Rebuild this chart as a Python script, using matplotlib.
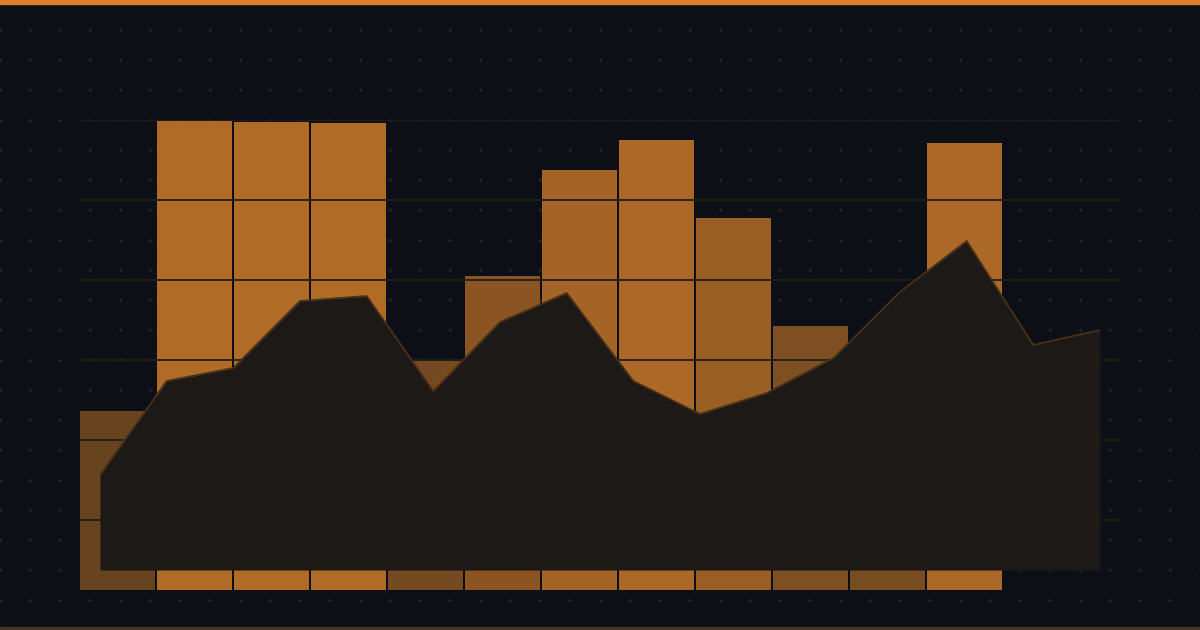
import numpy as np
import matplotlib.pyplot as plt
from matplotlib.colors import to_rgb

# -------------------- DATA --------------------

bar_values = [179, 469, 468, 467, 229, 314, 420, 450, 372, 264, 243, 447]
area_values = [95, 189, 202, 269, 274, 179, 248, 277, 189, 156, 177, 212, 278, 329, 225, 240]

# -------------------- STYLE --------------------

BG = "#0c0f16"
ORANGE = "#d9822b"
GRID = "#211d1b"
DOT = "#2c2520"
AREA_FILL = "#1c1916"
AREA_LINE = "#4b3018"

W, H = 1200, 630


def blend(alpha):
    bg = np.array(to_rgb(BG))
    fg = np.array(to_rgb(ORANGE))
    return tuple(bg * (1 - alpha) + fg * alpha)


fig = plt.figure(figsize=(12, 6.3), dpi=100)
fig.patch.set_facecolor(BG)

# background layer in pixel coords: dots + borders
bg_ax = fig.add_axes([0, 0, 1, 1])
bg_ax.set_xlim(0, W)
bg_ax.set_ylim(H, 0)
bg_ax.axis("off")
bg_ax.set_facecolor(BG)

gx, gy = np.meshgrid(np.arange(0, W + 1, 30), np.arange(30, 601, 30))
bg_ax.scatter(gx.ravel(), gy.ravel(), marker="+", s=6, linewidths=0.8,
              color=DOT, zorder=1)
bg_ax.axhspan(0, 4, color="#dc8030", zorder=5)
bg_ax.axhspan(627, 630, color="#4a3320", zorder=5)

# -------------------- BARS --------------------

step = 77
left, right, top, bottom = 80, 1120, 120, 590
ax = fig.add_axes([left / W, 1 - bottom / H, (right - left) / W, (bottom - top) / H])
ax.set_facecolor("none")

vmin, vmax = min(bar_values), max(bar_values)
colors = [blend(0.45 + 0.35 * (v - vmin) / (vmax - vmin)) for v in bar_values]
x = np.arange(len(bar_values))
width = 75 / step
ax.bar(x, bar_values, width=width, color=colors, zorder=2)

x0 = -width / 2
ax.set_xlim(x0, x0 + (right - left) / step)
ax.set_ylim(0, bottom - top)
for gy_line in [470, 390, 310, 230, 150, 70]:
    ax.axhline(gy_line, color=GRID, lw=1.3, zorder=3)
ax.axis("off")

# -------------------- AREA --------------------

a_left, a_right, a_top, a_bottom = 100, 1100, 120, 570
ax2 = fig.add_axes([a_left / W, 1 - a_bottom / H, (a_right - a_left) / W, (a_bottom - a_top) / H])
ax2.set_facecolor("none")
xa = np.arange(len(area_values))
ax2.fill_between(xa, 0, area_values, color=AREA_FILL, lw=0, zorder=4)
ax2.plot(xa, area_values, color=AREA_LINE, lw=1.3, zorder=5)
ax2.set_xlim(0, len(area_values) - 1)
ax2.set_ylim(0, a_bottom - a_top)
ax2.axis("off")

fig.savefig("out.png", dpi=100, facecolor=BG)
